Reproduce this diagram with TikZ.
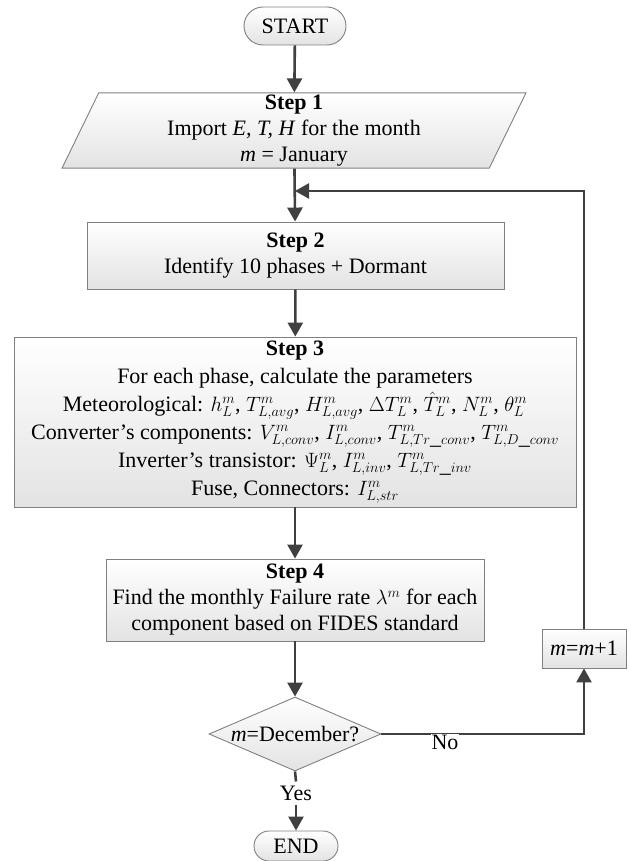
\documentclass[tikz,border=0pt]{standalone}
\usepackage{fontspec}
\setmainfont{Liberation Serif}
\usetikzlibrary{arrows.meta,shapes.geometric}
\tikzset{
	box/.style={draw=black!50, line width=0.9pt, top color=white, bottom color=black!11, align=center, inner sep=2pt},
	termbox/.style={box, rounded corners=#1},
	flow/.style={draw=black!75, line width=2.6pt, -{Triangle[width=15pt,length=14pt]}},
	link/.style={draw=black!75, line width=2.6pt},
}

\begin{document}
\begin{tikzpicture}[x=1pt, y=-1pt, font=\fontsize{22}{26}\selectfont]
		%%%%% START %%%%%
		\useasboundingbox (0, 0) rectangle (630, 861);
		
		\node[termbox=19pt, minimum width=102pt, minimum height=38pt] (start) at (295, 26) {START};
		
		\node[box, shape=trapezium, trapezium left angle=64, trapezium right angle=116, trapezium stretches body, minimum width=464pt, minimum height=75pt] (step1) at (294, 130.5)
			{\textbf{Step 1}\\Import \textit{E, T, H} for the month\\\textit{m} = January};
		
		\node[box, minimum width=417pt, minimum height=67pt] (step2) at (295.5, 255.5)
			{\textbf{Step 2}\\Identify 10 phases + Dormant};
		
		\node[box, minimum width=562pt, minimum height=170pt, font=\fontsize{22}{28}\selectfont] (step3) at (295, 422)
			{\textbf{Step 3}\\For each phase, calculate the parameters\\
			Meteorological: $h_L^m$, $T_{L,avg}^m$, $H_{L,avg}^m$, $\Delta T_L^m$, $\hat{T}_L^m$, $N_L^m$, $\theta_L^m$\\
			Converter's components: $V_{L,conv}^m$, $I_{L,conv}^m$, $T_{L,Tr\_conv}^m$, $T_{L,D\_conv}^m$\\
			Inverter's transistor: $\Psi_L^m$, $I_{L,inv}^m$, $T_{L,Tr\_inv}^m$\\
			Fuse, Connectors: $I_{L,str}^m$};
		
		\node[box, minimum width=378pt, minimum height=82pt] (step4) at (295, 600)
			{\textbf{Step 4}\\Find the monthly Failure rate $\lambda^m$ for each\\component based on FIDES standard};
		
		\node[box, shape=diamond, shape aspect=2.32, inner xsep=-4pt, inner ysep=0pt, minimum width=172pt, minimum height=74pt] (dec) at (295, 734)
			{\textit{m}=December?};
		
		\node[box, minimum width=84pt, minimum height=39pt] (mnext) at (584, 648.5) {\textit{m}=\textit{m}+1};
		
		\node[termbox=15pt, minimum width=84pt, minimum height=30pt] (end) at (296, 846) {END};
		
		\coordinate (join) at (295, 191);
		
		\draw[flow] (start) -- (step1);
		\draw[flow] (step1) -- (step2);
		\draw[flow] (step2) -- (step3);
		\draw[flow] (step3) -- (step4);
		\draw[flow] (step4) -- (dec);
		
		\draw[flow] (dec.east) -- (dec.east -| mnext.south) -- (mnext.south);
		\node[fill=white, inner sep=1pt] (nolbl) at (445, 742) {No};
		\draw[flow] (mnext.north) |- (join);
		
		\node[inner sep=4pt] (yeslbl) at (296, 793) {Yes};
		\draw[link] (dec.south) -- (yeslbl.north);
		\draw[flow] (yeslbl.south) -- (end.north);
		
		%%%%% END %%%%%
	\end{tikzpicture}
\end{document}
